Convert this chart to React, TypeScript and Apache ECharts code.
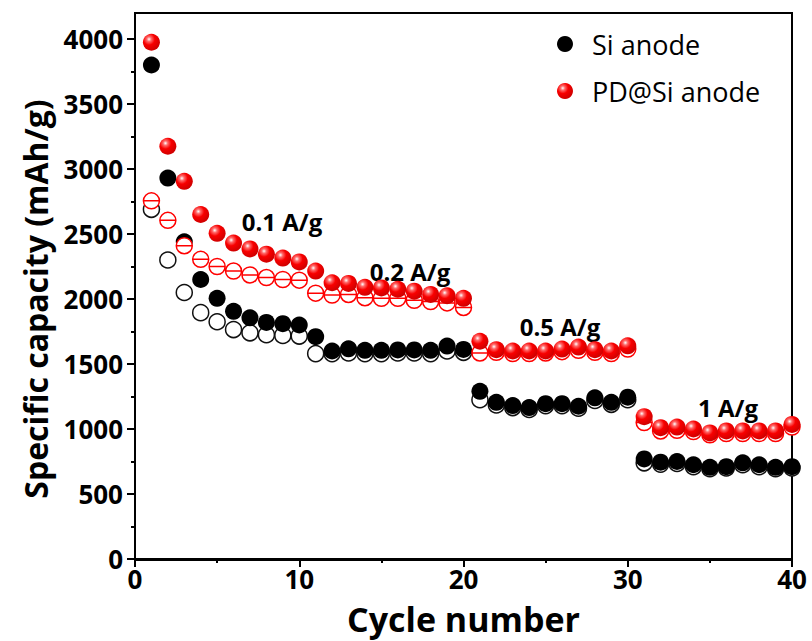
import React, { useEffect, useRef } from "react";
import * as echarts from "echarts";

const cycles = [1, 2, 3, 4, 5, 6, 7, 8, 9, 10, 11, 12, 13, 14, 15, 16, 17, 18, 19, 20, 21, 22, 23, 24, 25, 26, 27, 28, 29, 30, 31, 32, 33, 34, 35, 36, 37, 38, 39, 40];

const siDischarge = [3800, 2930, 2440, 2150, 2005, 1905, 1855, 1820, 1810, 1800, 1710, 1600, 1617, 1605, 1605, 1608, 1608, 1605, 1638, 1612, 1290, 1205, 1180, 1165, 1195, 1195, 1175, 1240, 1205, 1245, 770, 745, 750, 725, 705, 710, 740, 725, 705, 710];
const siCharge = [2690, 2300, 2050, 1895, 1825, 1765, 1740, 1725, 1720, 1715, 1580, 1580, 1585, 1580, 1580, 1585, 1585, 1580, 1600, 1590, 1225, 1185, 1165, 1150, 1180, 1180, 1160, 1220, 1190, 1225, 740, 730, 735, 710, 695, 700, 725, 710, 695, 700];
const pdDischarge = [3975, 3175, 2905, 2650, 2505, 2430, 2385, 2345, 2315, 2285, 2215, 2125, 2120, 2090, 2085, 2075, 2060, 2035, 2025, 2005, 1675, 1610, 1600, 1600, 1600, 1615, 1630, 1610, 1600, 1640, 1095, 1010, 1015, 1000, 970, 985, 985, 985, 985, 1035];
const pdCharge = [2755, 2605, 2410, 2305, 2250, 2215, 2185, 2165, 2150, 2145, 2045, 2030, 2035, 2010, 2005, 2005, 1990, 1980, 1970, 1935, 1585, 1590, 1580, 1580, 1585, 1595, 1605, 1590, 1580, 1615, 1050, 985, 990, 980, 955, 965, 965, 965, 965, 1015];

const yTicks = [0, 500, 1000, 1500, 2000, 2500, 3000, 3500, 4000];
const xTicks = [0, 10, 20, 30, 40];

const rateLabels = ["0.1 A/g", "0.2 A/g", "0.5 A/g", "1 A/g"];

const FONT = "'Open Sans', sans-serif";

const pair = (vals: number[]) => cycles.map((c, i) => [c, vals[i]]);

const redGradient = {
  type: "radial",
  x: 0.36,
  y: 0.32,
  r: 0.68,
  colorStops: [
    { offset: 0, color: "#ffffff" },
    { offset: 0.2, color: "#ff6a6a" },
    { offset: 0.5, color: "#f80000" },
    { offset: 1, color: "#d00000" },
  ],
};

const thetaSymbol = "path://M0,10A10,10,0,1,1,20,10A10,10,0,1,1,0,10ZM0,10L20,10";

const annoStyle = (text: string) => ({
  text,
  fontFamily: FONT,
  fontSize: 24,
  fontWeight: "bold",
  fill: "#000",
  align: "center",
  verticalAlign: "middle",
});

export default function App() {
  const ref = useRef<HTMLDivElement>(null);
  useEffect(() => {
    if (!ref.current) return;
    const chart = echarts.init(ref.current, null, { renderer: "svg" });
    const option: any = {
      animation: false,
      backgroundColor: "#ffffff",
      textStyle: { fontFamily: FONT },
      grid: [
        { left: 135, right: 20, top: 39, bottom: 81, show: false },
        { left: 135, right: 20, top: 13, bottom: 81, show: true, borderColor: "#000", borderWidth: 2, backgroundColor: "transparent" },
      ],
      legend: {
        data: ["Si anode", "PD@Si anode"],
        orient: "vertical",
        left: 552,
        top: 22,
        itemWidth: 16,
        itemHeight: 16,
        itemGap: 13,
        textStyle: { fontFamily: FONT, fontSize: 27, color: "#000", padding: [0, 0, 0, 14], lineHeight: 34 },
      },
      xAxis: [
        {
          type: "value",
          min: xTicks[0],
          max: xTicks[xTicks.length - 1],
          interval: 10,
          name: "Cycle number",
          nameLocation: "middle",
          nameGap: 43,
          nameTextStyle: { fontFamily: FONT, fontSize: 34, fontWeight: "bold", color: "#000", lineHeight: 34 },
          axisLine: { show: true, lineStyle: { color: "#000", width: 2 } },
          axisTick: { show: true, length: 8, lineStyle: { color: "#000", width: 2 } },
          minorTick: { show: true, splitNumber: 2, length: 4, lineStyle: { color: "#000", width: 2 } },
          axisLabel: { fontFamily: FONT, fontSize: 26, fontWeight: "bold", color: "#000", margin: 7, lineHeight: 26 },
          splitLine: { show: false },
        },
        { gridIndex: 1, type: "value", min: 0, max: 40, show: false },
      ],
      yAxis: [
        {
          type: "value",
          min: yTicks[0],
          max: yTicks[yTicks.length - 1],
          interval: 500,
          name: "Specific capacity (mAh/g)",
          nameLocation: "middle",
          nameGap: 84,
          nameTextStyle: { fontFamily: FONT, fontSize: 32, fontWeight: "bold", color: "#000" },
          axisLine: { show: true, lineStyle: { color: "#000", width: 2 } },
          axisTick: { show: true, length: 8, lineStyle: { color: "#000", width: 2 } },
          minorTick: { show: true, splitNumber: 2, length: 4, lineStyle: { color: "#000", width: 2 } },
          axisLabel: {
            fontFamily: FONT,
            fontSize: 26,
            fontWeight: "bold",
            color: "#000",
            margin: 12,
            formatter: (v: number) => String(v),
          },
          splitLine: { show: false },
        },
        { gridIndex: 1, type: "value", min: 0, max: 4200, show: false },
      ],
      series: [
        {
          name: "Si anode (charge)",
          type: "scatter",
          clip: false,
          data: pair(siCharge),
          symbol: "circle",
          symbolSize: 16,
          itemStyle: { color: "#ffffff", borderColor: "#111", borderWidth: 1.5, opacity: 1 },
        },
        {
          name: "Si anode",
          type: "scatter",
          clip: false,
          data: pair(siDischarge),
          symbol: "circle",
          symbolSize: 17,
          itemStyle: { color: "#000000", opacity: 1 },
        },
        {
          name: "PD@Si anode (charge)",
          type: "scatter",
          clip: false,
          data: pair(pdCharge),
          symbol: thetaSymbol,
          symbolSize: 16,
          itemStyle: { color: "#ffffff", borderColor: "#ff0000", borderWidth: 1.5, opacity: 1 },
        },
        {
          name: "PD@Si anode",
          type: "scatter",
          clip: false,
          data: pair(pdDischarge),
          symbol: "circle",
          symbolSize: 17,
          itemStyle: { color: redGradient, opacity: 1 },
        },
      ],
      graphic: [
        { type: "text", x: 282, y: 221, style: annoStyle(rateLabels[0]) },
        { type: "text", x: 410, y: 271, style: annoStyle(rateLabels[1]) },
        { type: "text", x: 560, y: 326, style: annoStyle(rateLabels[2]) },
        { type: "text", x: 728, y: 407, style: annoStyle(rateLabels[3]) },
      ],
    };
    chart.setOption(option);
    return () => chart.dispose();
  }, []);
  return <div ref={ref} style={{ position: "fixed", left: 0, top: 0, width: 812, height: 641 }} />;
}
